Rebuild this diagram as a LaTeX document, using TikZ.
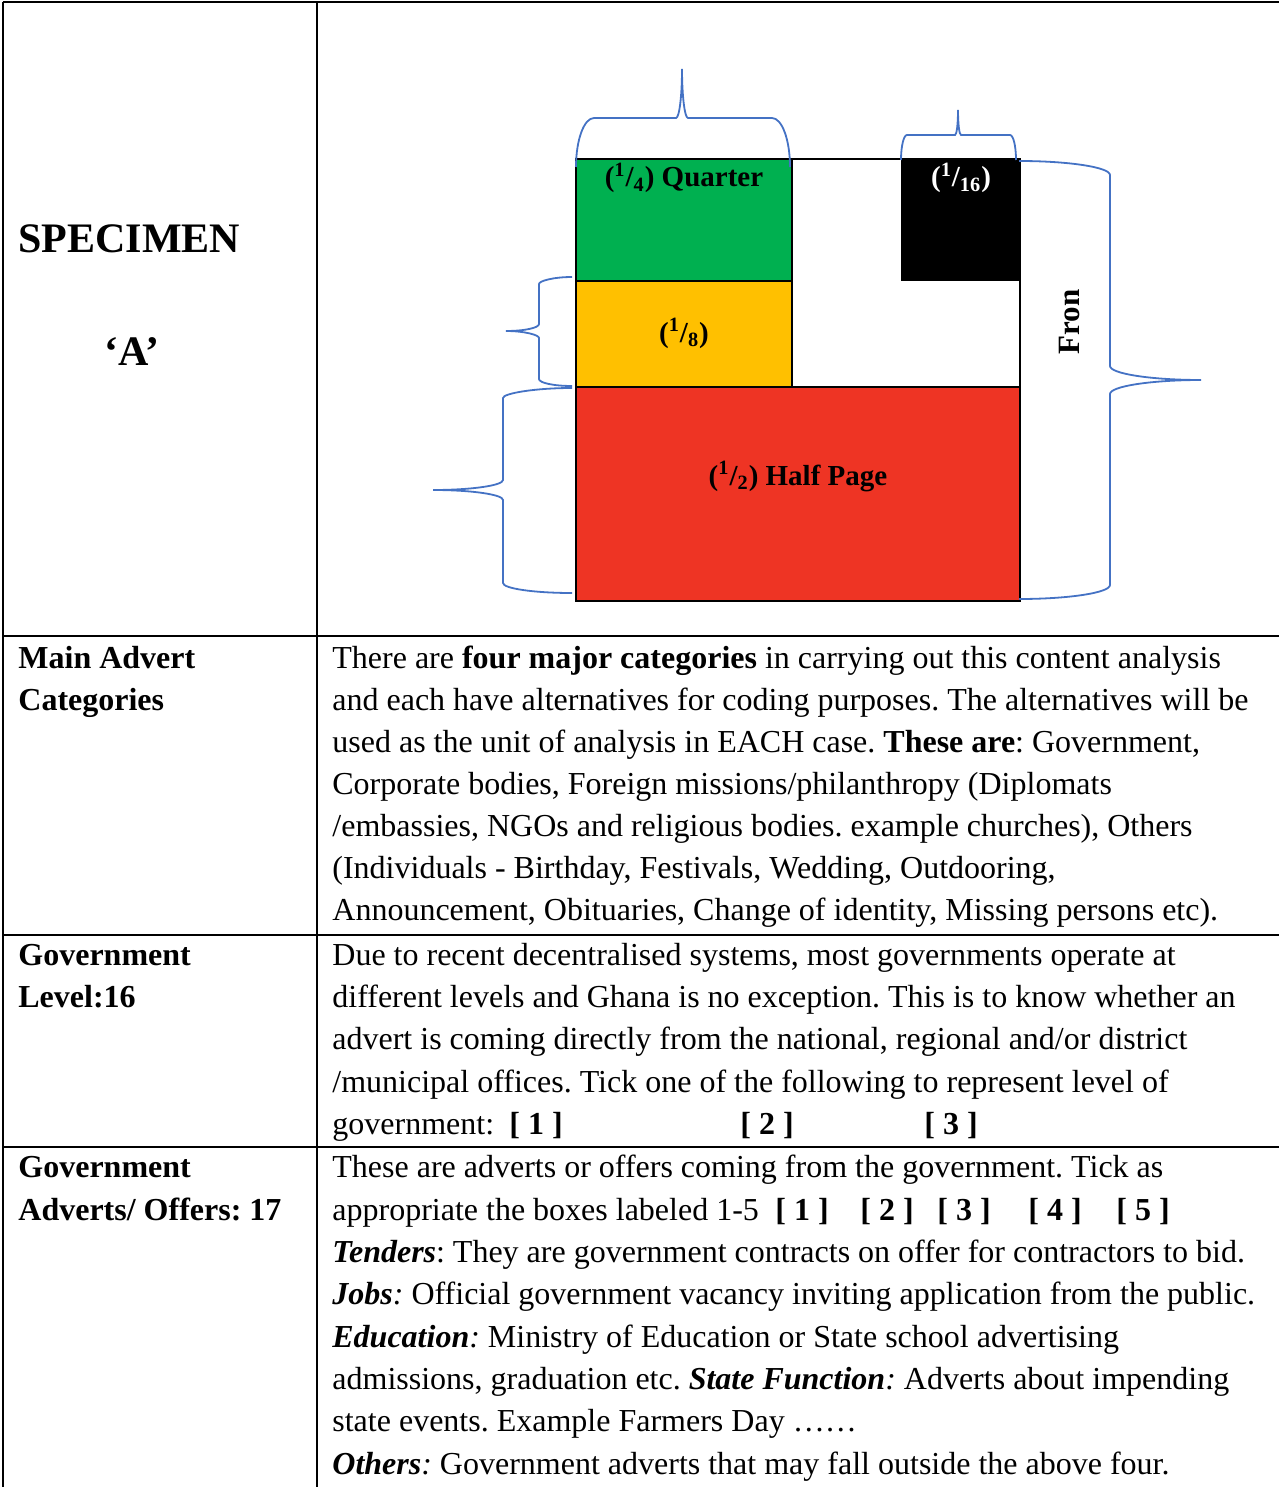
\documentclass[tikz,border=0pt]{standalone}
\usepackage{fontspec}
\setmainfont{Liberation Serif}
\usepackage{tikz}
\usetikzlibrary{positioning}
\usepackage{xcolor}
\definecolor{quartergreen}{HTML}{00B050}
\definecolor{eighthgold}{HTML}{FFC000}
\definecolor{halfred}{HTML}{EE3424}
\definecolor{braceblue}{HTML}{4472C4}
\frenchspacing

\tikzset{
  cellrule/.style={line width=1pt},
  bodyline/.style={anchor=base west, inner sep=0pt, font=\fontsize{16}{19}\selectfont},
  headline/.style={bodyline, font=\fontsize{16}{19}\selectfont\bfseries},
  tickbox/.style={bodyline, font=\fontsize{16}{19}\selectfont\bfseries},
  adlabel/.style={anchor=base, inner sep=0pt, font=\fontsize{14.5}{17}\selectfont\bfseries},
  adbox/.style={draw=black, line width=1pt},
  bracket/.style={draw=braceblue, line width=0.9pt},
}

\begin{document}
\begin{tikzpicture}[x=0.5pt,y=-0.5pt]
    \useasboundingbox (0,0) rectangle (1279,1487);

    % Table rules
    \draw[cellrule] (2.5,2) -- (1279,2);
    \draw[cellrule] (2.5,2) -- (2.5,1487);
    \draw[cellrule] (317,2) -- (317,1487);
    \draw[cellrule] (2.5,636) -- (1279,636);
    \draw[cellrule] (2.5,935) -- (1279,935);
    \draw[cellrule] (2.5,1147) -- (1279,1147);

    % Specimen heading
    \node[anchor=base west,inner sep=0pt,font=\fontsize{21}{25}\selectfont\bfseries] (specimen) at (18,253) {SPECIMEN};
    \node[anchor=base,inner sep=0pt,font=\fontsize{21}{25}\selectfont\bfseries] (specA) at (132,365) {‘A’};

    % Advert sizes on the page
    \fill[quartergreen] (576,159) rectangle (792,281);
    \fill[eighthgold] (576,281) rectangle (792,387);
    \fill[halfred] (576,387) rectangle (1020,601);
    \fill[black] (901,159) rectangle (1020,281);
    \draw[adbox] (576,159) rectangle (792,281);
    \draw[adbox] (576,281) rectangle (792,387);
    \draw[adbox] (576,387) rectangle (1020,601);
    \draw[adbox] (576,159) rectangle (1020,601);

    \node[adlabel] (quarter) at (684,187) {(\textsuperscript{1}/\textsubscript{4}) Quarter};
    \node[adlabel] (eighth) at (684,342) {(\textsuperscript{1}/\textsubscript{8})};
    \node[adlabel,text=white] (sixteenth) at (961,187) {(\textsuperscript{1}/\textsubscript{16})};
    \node[adlabel] (half) at (798,485) {(\textsuperscript{1}/\textsubscript{2}) Half Page};
    \node[adlabel,rotate=90,font=\fontsize{15.5}{18}\selectfont\bfseries] (front) at (1079,322) {Fron};

    % Braces
    \draw[bracket] (576,167) .. controls (576,140) and (584,118) .. (594,118) -- (676,118)
        .. controls (679.3,118) and (682,96) .. (682,69)
        .. controls (682,96) and (684.7,118) .. (688,118) -- (772,118)
        .. controls (782,118) and (790,140) .. (790,167);
    \draw[bracket] (901,160) .. controls (901,146.2) and (903.7,135) .. (907,135) -- (955,135)
        .. controls (956.7,135) and (958,123.8) .. (958,110)
        .. controls (958,123.8) and (959.3,135) .. (961,135) -- (1010,135)
        .. controls (1013.3,135) and (1016,146.2) .. (1016,160);
    \draw[bracket] (572,277) .. controls (553.8,277) and (539,280.9) .. (539,284) -- (539,324)
        .. controls (539,327.9) and (524.2,331) .. (506,331)
        .. controls (524.2,331) and (539,334.9) .. (539,338) -- (539,379)
        .. controls (539,382.9) and (553.8,386) .. (572,386);
    \draw[bracket] (572,388) .. controls (534,388) and (503,393.5) .. (503,398) -- (503,480)
        .. controls (503,485.5) and (471.5,490) .. (433,490)
        .. controls (471.5,490) and (503,494.5) .. (503,500) -- (503,583)
        .. controls (503,588.5) and (534,593) .. (572,593);
    \draw[bracket] (1019,161) .. controls (1069,161) and (1110,167.3) .. (1110,175) -- (1110,366)
        .. controls (1110,373.7) and (1151,380) .. (1201,380)
        .. controls (1151,380) and (1110,386.3) .. (1110,394) -- (1110,585)
        .. controls (1110,592.7) and (1069,599) .. (1019,599);

    % Main advert categories
    \node[headline] (catHead1) at (18,668) {Main Advert};
    \node[headline] (catHead2) at (18,710) {Categories};
    \node[bodyline] (catL1) at (332,668) {There are \textbf{four major categories} in carrying out this content analysis};
    \node[bodyline] (catL2) at (332,710) {and each have alternatives for coding purposes. The alternatives will be};
    \node[bodyline] (catL3) at (332,752) {used as the unit of analysis in EACH case. \textbf{These are}: Government,};
    \node[bodyline] (catL4) at (332,794) {Corporate bodies, Foreign missions/philanthropy (Diplomats};
    \node[bodyline] (catL5) at (332,836) {/embassies, NGOs and religious bodies. example churches), Others};
    \node[bodyline] (catL6) at (332,878) {(Individuals - Birthday, Festivals, Wedding, Outdooring,};
    \node[bodyline] (catL7) at (332,920) {Announcement, Obituaries, Change of identity, Missing persons etc).};

    % Government level
    \node[headline] (levelHead1) at (18,965) {Government};
    \node[headline] (levelHead2) at (18,1007) {Level:16};
    \node[bodyline] (levelL1) at (332,965) {Due to recent decentralised systems, most governments operate at};
    \node[bodyline] (levelL2) at (332,1007) {different levels and Ghana is no exception. This is to know whether an};
    \node[bodyline] (levelL3) at (332,1049) {advert is coming directly from the national, regional and/or district};
    \node[bodyline] (levelL4) at (332,1092) {/municipal offices. Tick one of the following to represent level of};
    \node[bodyline] (levelL5) at (332,1134) {government:};
    \node[tickbox] (levelBox1) at (509,1134) {[ 1 ]};
    \node[tickbox] (levelBox2) at (740,1134) {[ 2 ]};
    \node[tickbox] (levelBox3) at (924,1134) {[ 3 ]};

    % Government adverts and offers
    \node[headline] (offerHead1) at (18,1177) {Government};
    \node[headline] (offerHead2) at (18,1220) {Adverts/ Offers: 17};
    \node[bodyline] (offerL1) at (332,1177) {These are adverts or offers coming from the government. Tick as};
    \node[bodyline] (offerL2) at (332,1220) {appropriate the boxes labeled 1-5};
    \node[tickbox] (offerBox1) at (775,1220) {[ 1 ]};
    \node[tickbox] (offerBox2) at (860,1220) {[ 2 ]};
    \node[tickbox] (offerBox3) at (937,1220) {[ 3 ]};
    \node[tickbox] (offerBox4) at (1028,1220) {[ 4 ]};
    \node[tickbox] (offerBox5) at (1116,1220) {[ 5 ]};
    \node[bodyline] (offerL3) at (332,1262) {\textbf{\textit{Tenders}}: They are government contracts on offer for contractors to bid.};
    \node[bodyline] (offerL4) at (332,1304) {\textbf{\textit{Jobs}}\textit{:} Official government vacancy inviting application from the public.};
    \node[bodyline] (offerL5) at (332,1347) {\textbf{\textit{Education}}\textit{:} Ministry of Education or State school advertising};
    \node[bodyline] (offerL6) at (332,1389) {admissions, graduation etc. \textbf{\textit{State Function}}\textit{:} Adverts about impending};
    \node[bodyline] (offerL7) at (332,1431) {state events. Example Farmers Day ……};
    \node[bodyline] (offerL8) at (332,1474) {\textbf{\textit{Others}}\textit{:} Government adverts that may fall outside the above four.};
\end{tikzpicture}
\end{document}
